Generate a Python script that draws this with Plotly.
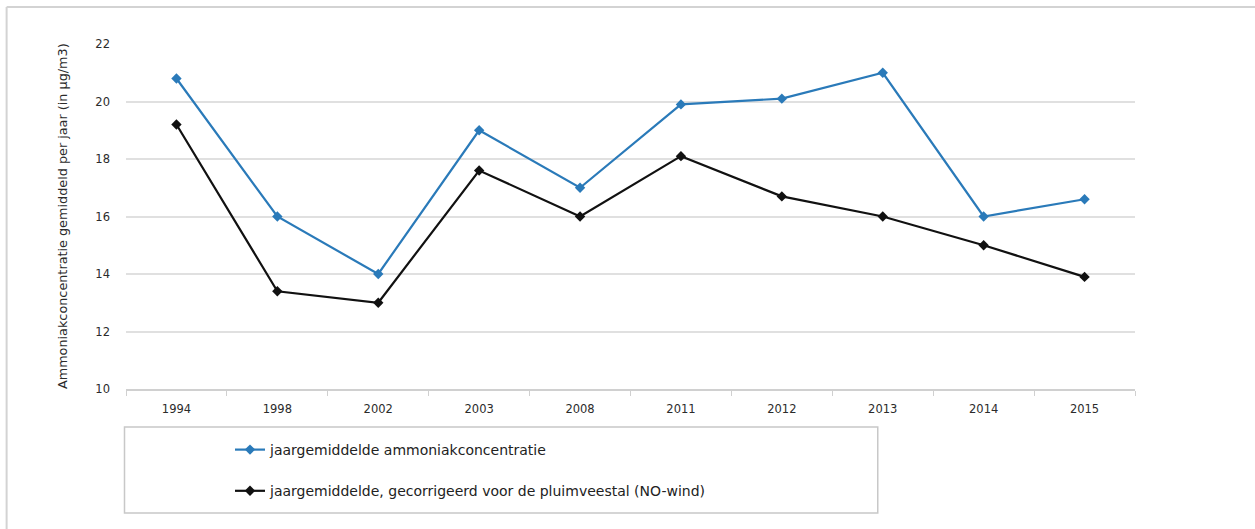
import plotly.graph_objects as go

# Annual ammonia concentration per measurement year
years = ["1994", "1998", "2002", "2003", "2008", "2011", "2012", "2013", "2014", "2015"]
ammonia_mean = [20.8, 16.0, 14.0, 19.0, 17.0, 19.9, 20.1, 21.0, 16.0, 16.6]
ammonia_corrected = [19.2, 13.4, 13.0, 17.6, 16.0, 18.1, 16.7, 16.0, 15.0, 13.9]

name_mean = "jaargemiddelde ammoniakconcentratie"
name_corr = "jaargemiddelde, gecorrigeerd voor de pluimveestal (NO-wind)"
y_title = "Ammoniakconcentratie gemiddeld per jaar (in µg/m3)"

W, H = 1255, 529
L, R, T, B = 125.5, 1135.5, 44, 389  # plot area in pixels

font_family = "DejaVu Sans, Verdana, sans-serif"
text_color = "#2b2b2b"

fig = go.Figure()
fig.add_trace(go.Scatter(
    x=years, y=ammonia_mean, name=name_mean, mode="lines+markers",
    line=dict(color="#2a7ab9", width=2.2),
    marker=dict(symbol="diamond", size=8, color="#2a7ab9"),
    legendgroup="a",
))
fig.add_trace(go.Scatter(
    x=years, y=ammonia_corrected, name=name_corr, mode="lines+markers",
    line=dict(color="#111111", width=2.2),
    marker=dict(symbol="diamond", size=8, color="#111111"),
    legendgroup="b",
))


def px_x(px):
    return (px - L) / (R - L)


def px_y(py):
    return (B - py) / (B - T)


shapes = [
    # outer chart frame (top and left edges)
    dict(type="line", xref="paper", yref="paper",
         x0=px_x(6), x1=px_x(W + 5), y0=px_y(7), y1=px_y(7),
         line=dict(color="#d3d3d3", width=2)),
    dict(type="line", xref="paper", yref="paper",
         x0=px_x(6), x1=px_x(6), y0=px_y(7), y1=px_y(H + 5),
         line=dict(color="#d3d3d3", width=2)),
    # legend frame
    dict(type="rect", xref="paper", yref="paper",
         x0=px_x(124), x1=px_x(878), y0=px_y(427), y1=px_y(513),
         line=dict(color="#c8c8c8", width=1.5), fillcolor="rgba(0,0,0,0)"),
]

annotations = [
    dict(text=y_title, xref="paper", yref="paper",
         x=px_x(62), y=0.5, xanchor="center", yanchor="middle",
         textangle=-90, showarrow=False,
         font=dict(family=font_family, size=12.8, color=text_color)),
]

fig.update_layout(
    width=W, height=H,
    margin=dict(l=L, r=W - R, t=T, b=H - B, autoexpand=False),
    paper_bgcolor="white", plot_bgcolor="white",
    font=dict(family=font_family, size=12, color=text_color),
    shapes=shapes,
    annotations=annotations,
    showlegend=True,
    legend=dict(
        xref="container", yref="container",
        x=230 / W, y=1 - 434 / H, xanchor="left", yanchor="top",
        font=dict(family=font_family, size=14, color="#222222"),
        bgcolor="rgba(0,0,0,0)", borderwidth=0,
        itemwidth=30, tracegroupgap=20,
    ),
)

fig.update_xaxes(
    type="category", showgrid=False,
    showline=True, linecolor="#d0d0d0", linewidth=1.5,
    ticks="outside", tickson="boundaries", ticklen=5, tickcolor="#d0d0d0",
    tickfont=dict(size=11.5, color=text_color),
    ticklabelstandoff=8,
    range=[-0.5, len(years) - 0.5],
)
fig.update_yaxes(
    range=[10, 22], dtick=2, showgrid=True, gridcolor="#e0e0e0", gridwidth=1.5,
    zeroline=False, showline=False, ticks="",
    tickfont=dict(size=11.5, color=text_color),
    ticklabelstandoff=15,
)

fig.write_html("out.html")
